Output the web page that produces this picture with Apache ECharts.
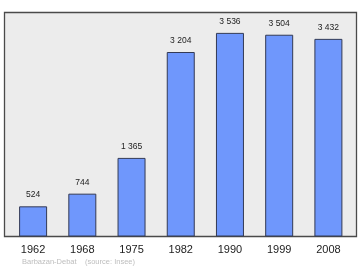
<!DOCTYPE html>
<html><head><meta charset="utf-8">
<script src="https://cdn.jsdelivr.net/npm/echarts@6/dist/echarts.min.js"></script>
<style>html,body{margin:0;padding:0;background:#fff}#c{width:360px;height:270px}</style>
</head><body><div id="c"></div>
<script>
const categories = ['1962','1968','1975','1982','1990','1999','2008'];
const population = [524, 744, 1365, 3204, 3536, 3504, 3432];
const labels = ['524','744','1 365','3 204','3 536','3 504','3 432'];
const sourceText = 'Barbazan-Debat    (source: Insee)';
const FONT = '"Liberation Sans", Arial, sans-serif';

const chart = echarts.init(document.getElementById('c'), null, {renderer:'canvas'});
chart.setOption({
  animation: false,
  backgroundColor: '#ffffff',
  graphic: [
    {type:'rect', shape:{x:4.5, y:12.5, width:352, height:224}, style:{fill:'#ececec', stroke:'#4a4a4a', lineWidth:1.3}, z:-10},
    {type:'text', left:22, top:258, style:{text:sourceText, fill:'#bdbdbd', font:'7.5px ' + FONT}}
  ],
  grid: {left:8.5, right:7, top:12.5, bottom:33.5, containLabel:false},
  xAxis: {
    type:'category', data:categories,
    axisLine:{show:false}, axisTick:{show:false},
    axisLabel:{color:'#222', fontSize:11, margin:8, fontFamily:FONT}
  },
  yAxis: {type:'value', min:0, max:3890, show:false, splitLine:{show:false}},
  series: [{
    type:'bar', barWidth:28,
    data: population,
    itemStyle:{color:'#6f97fc', borderColor:'#333a55', borderWidth:1},
    label:{show:true, position:'top', distance:7, color:'#222', fontSize:8.5,
      fontFamily:FONT,
      formatter: p => labels[p.dataIndex]}
  }]
});
</script></body></html>
